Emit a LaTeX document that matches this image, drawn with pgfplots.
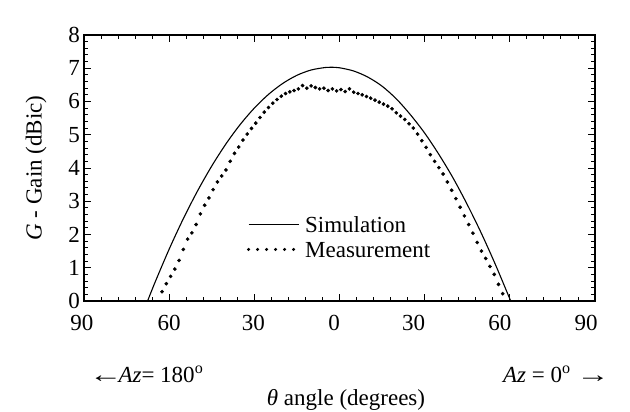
\documentclass[border=0pt]{standalone}
\usepackage{fontspec}
\setmainfont{Liberation Serif}
\usepackage{graphicx}
\usepackage{pgfplots}
\pgfplotsset{compat=1.18}
% shift a tick label sideways without changing its box
\newcommand{\lbl}[2]{\hspace*{#1}#2\hspace*{-#1}}
\newcommand{\larr}{\scalebox{1.45}[1]{←}}
\newcommand{\rarr}{\scalebox{1.45}[1]{→}}
\begin{document}
\begin{tikzpicture}[font=\fontsize{23}{27}\selectfont]
\begin{axis}[
  scale only axis, width=511pt, height=266pt,
  xmin=-90, xmax=90, ymin=0, ymax=8,
  xtick={-90,-60,...,90},
  xticklabels={\lbl{-2pt}{90},\lbl{0pt}{60},\lbl{-1pt}{30},\lbl{-5.5pt}{0},\lbl{-11pt}{30},\lbl{-10pt}{60},\lbl{-9pt}{90}},
  ytick={0,1,...,8},
  minor x tick num=4, minor y tick num=4,
  tick align=inside, tick pos=both,
  major tick length=7pt, minor tick length=4pt,
  axis line style={line width=1.2pt},
  every tick/.style={black, line width=0.9pt},
  /pgf/number format/assume math mode=true,
  xticklabel style={inner sep=0pt, yshift=-14pt},
  yticklabel style={inner sep=0pt, xshift=-4pt},
  legend style={draw=none, fill=none, at={(axis cs:-32.6,1.925)}, anchor=west,
    inner sep=0pt, outer sep=0pt, row sep=9pt,
    nodes={inner sep=0pt, text height=16pt, text depth=0pt}},
  legend cell align=left,
]
\addplot[black, line width=1.1pt, smooth,
  legend image code/.code={\draw[black, line width=1.1pt] (0pt,0pt) -- (50pt,0pt); \path (56pt,0pt);}]
  coordinates {
  (-67.6,0.00) (-65,0.557) (-60,1.559) (-55,2.477) (-50,3.310) (-45,4.059)
  (-40,4.725) (-35,5.306) (-30,5.802) (-25,6.215) (-20,6.543) (-15,6.788)
  (-10,6.947) (-5,7.023) (-3,7.030) (0,7.014) (5,6.917) (10,6.733)
  (15,6.46) (20,6.08) (25,5.60) (30,5.05) (35,4.41) (40,3.70)
  (45,2.90) (50,2.03) (55,1.08) (60.3,0.00)
  };
\addlegendentry{Simulation}
\addplot[only marks, mark=*, mark size=1.65pt, black,
  legend image code/.code={\draw[black, line width=3.3pt, line cap=round, dash pattern=on 0pt off 9pt] (0pt,0pt) -- (50pt,0pt); \path (56pt,0pt);}]
  coordinates {
  (-62.5,0.28) (-61.0,0.52) (-59.5,0.74) (-58.0,0.96) (-56.5,1.22)
  (-55.0,1.55) (-53.5,1.86) (-52.0,2.05) (-50.5,2.30) (-49.0,2.62)
  (-47.5,2.88) (-46.0,3.10) (-44.5,3.35) (-43.0,3.58) (-41.5,3.76)
  (-40.0,3.94) (-38.5,4.20) (-37.0,4.44) (-35.5,4.63) (-34.0,4.84)
  (-32.5,5.02) (-31.0,5.19) (-29.5,5.35) (-28.0,5.52) (-26.5,5.68)
  (-25.0,5.82) (-23.5,5.95) (-22.0,6.06) (-20.5,6.16) (-19.0,6.24)
  (-17.5,6.29) (-16.0,6.33) (-14.5,6.38) (-13.0,6.48) (-11.5,6.40)
  (-10.0,6.47) (-8.5,6.42) (-7.0,6.38) (-5.5,6.40) (-4.0,6.33)
  (-2.5,6.38) (-1.0,6.32) (0.5,6.36) (2.0,6.30) (3.5,6.38)
  (5.0,6.28) (6.5,6.24) (8.0,6.20) (9.5,6.15) (11.0,6.10)
  (12.5,6.04) (14.0,5.98) (15.5,5.92) (17.0,5.86) (18.5,5.78)
  (20.0,5.66) (21.5,5.56) (23.0,5.46) (24.5,5.33) (26.0,5.20)
  (27.5,5.02) (29.0,4.82) (30.5,4.62) (32.0,4.40) (33.5,4.20)
  (35.0,4.01) (36.5,3.82) (38.0,3.58) (39.5,3.33) (41.0,3.08)
  (42.5,2.82) (44.0,2.56) (45.5,2.30) (47.0,2.04) (48.5,1.76)
  (50.0,1.50) (51.5,1.28) (53.0,1.04) (54.5,0.80) (56.0,0.50)
  (57.5,0.22)
  };
\addlegendentry{Measurement}
\end{axis}
% axis titles and azimuth notes
\node[rotate=90, inner sep=0pt] at ([xshift=-48pt]current axis.west) {\textit{G} - Gain (dBic)};
\node[anchor=west, inner sep=0pt] at ([shift={(5pt,-73pt)}]current axis.south west) {\larr\kern-4pt\textit{Az}= 180\textsuperscript{o}};
\node[anchor=east, inner sep=0pt] at ([shift={(15pt,-73pt)}]current axis.south east) {\textit{Az} = 0\textsuperscript{o} \rarr};
\node[inner sep=0pt] at ([shift={(6.5pt,-99pt)}]current axis.south) {\textit{θ} angle (degrees)};
% page frame
\path ([shift={(-84pt,-111pt)}]current axis.south west) rectangle ([shift={(35pt,35pt)}]current axis.north east);
\end{tikzpicture}
\end{document}
